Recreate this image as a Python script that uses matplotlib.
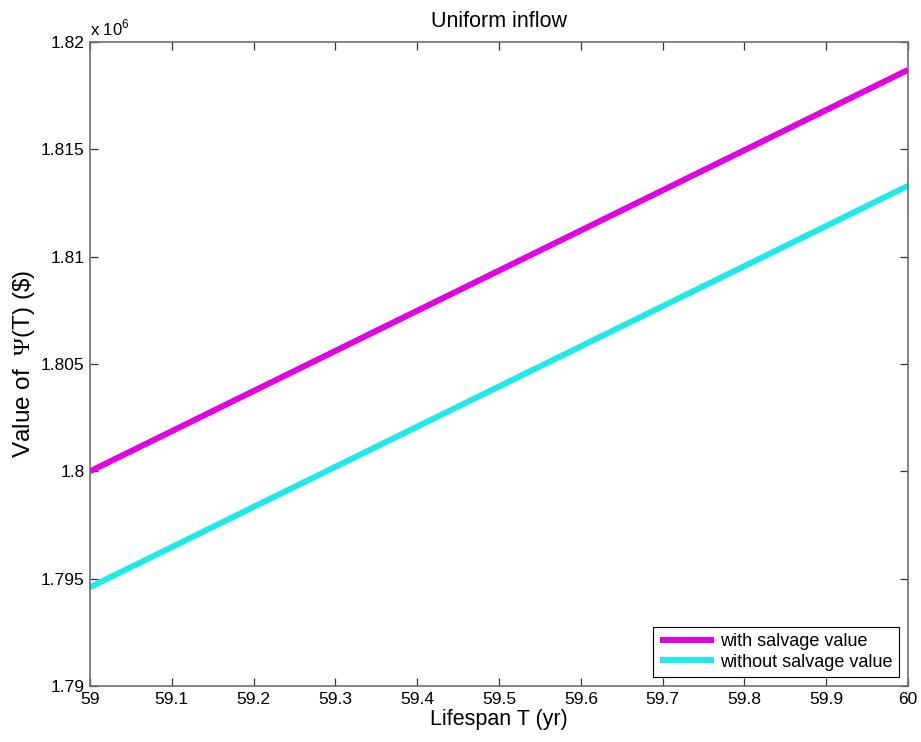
import numpy as np
import matplotlib
matplotlib.use('Agg')
import matplotlib.pyplot as plt
from matplotlib.ticker import FuncFormatter

plt.rcParams['font.family'] = ['Liberation Sans', 'DejaVu Sans']
plt.rcParams['mathtext.fontset'] = 'custom'
plt.rcParams['mathtext.rm'] = 'Liberation Serif'
plt.rcParams['mathtext.sf'] = 'Liberation Sans'

## data
lifespan = [59.0, 59.5, 60.0]
with_salvage = [1.8000e6, 1.80935e6, 1.8187e6]
without_salvage = [1.7946e6, 1.80395e6, 1.8133e6]

xticks = [59, 59.1, 59.2, 59.3, 59.4, 59.5, 59.6, 59.7, 59.8, 59.9, 60]
yticks = [1.79e6, 1.795e6, 1.80e6, 1.805e6, 1.81e6, 1.815e6, 1.82e6]

fig = plt.figure(figsize=(9.21, 7.42), dpi=100)
ax = fig.add_axes([0.0977, 0.0755, 0.8882, 0.8679])

ax.plot(lifespan, with_salvage, color='#e300e3', lw=4.3, label='with salvage value',
        solid_capstyle='butt')
ax.plot(lifespan, without_salvage, color='#1eeaea', lw=4.3, label='without salvage value',
        solid_capstyle='butt')

ax.set_xlim(59, 60)
ax.set_ylim(1.79e6, 1.82e6)
ax.set_xticks(xticks)
ax.set_yticks(yticks)
ax.xaxis.set_major_formatter(FuncFormatter(lambda v, p: '%g' % round(v, 4)))
ax.yaxis.set_major_formatter(FuncFormatter(lambda v, p: '%g' % round(v / 1e6, 4)))

for s in ax.spines.values():
    s.set_color('#6e6e6e')
    s.set_linewidth(1.2)
ax.tick_params(direction='in', top=True, right=True, length=6, width=0.9,
               color='#333333', labelsize=12.5, pad=4)

ax.text(0.0, 1.006, r'x 10$^{\mathsf{6}}$', transform=ax.transAxes, fontsize=12,
        ha='left', va='bottom')
ax.set_title('Uniform inflow', fontsize=15.5, pad=11)
ax.set_xlabel('Lifespan T (yr)', fontsize=15.5, labelpad=2)
ax.set_ylabel(r'Value of  $\mathrm{\Psi}$(T) (\$)', fontsize=17.5, labelpad=3)

leg = ax.legend(loc='lower right', fontsize=13, fancybox=False, framealpha=1,
                edgecolor='black', handlelength=3.0, handletextpad=0.35,
                borderaxespad=0.5, labelspacing=0.2, borderpad=0.35)
leg.get_frame().set_linewidth(0.8)

fig.savefig('out.png', dpi=100)
